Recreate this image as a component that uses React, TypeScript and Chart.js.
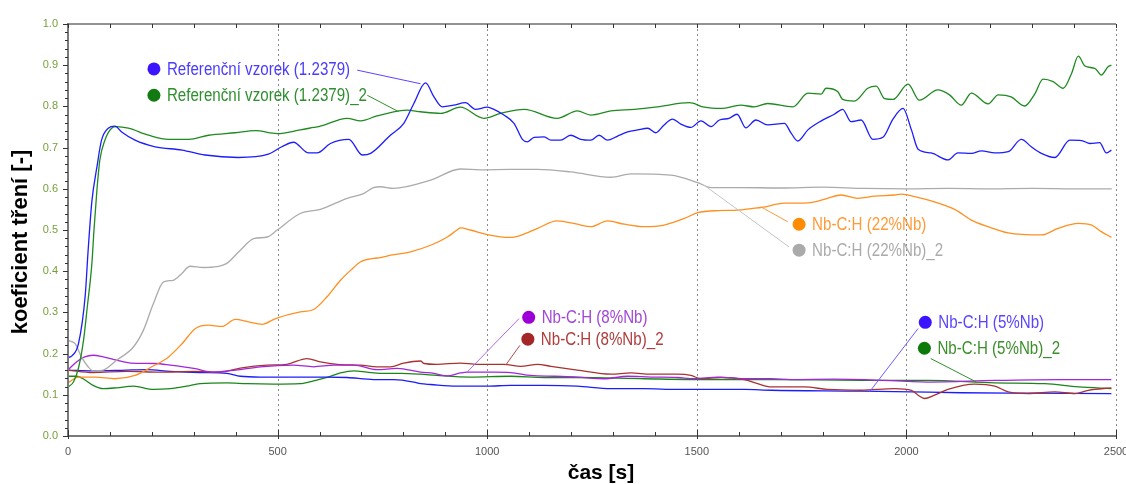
import React, { useEffect, useRef } from "react";
import { Chart, registerables } from "chart.js";

Chart.register(...registerables);

type Pt = [number, number];

// ---------- data (time [s], friction coefficient [-]) ----------
const refSample: Pt[] = [
  [0, 0.19], [10, 0.195], [25, 0.224], [41, 0.34], [48, 0.45], [57, 0.57], [69, 0.653], [80, 0.718],
  [96, 0.747], [112, 0.752], [128, 0.738], [160, 0.718], [208, 0.702], [272, 0.694], [327, 0.682],
  [406, 0.676], [478, 0.684], [510, 0.702], [538, 0.713], [574, 0.687], [594, 0.687], [626, 0.71],
  [670, 0.72], [702, 0.682], [722, 0.686], [769, 0.73], [801, 0.759], [825, 0.807], [853, 0.857],
  [873, 0.823], [893, 0.799], [920, 0.803], [948, 0.809], [972, 0.793], [1000, 0.798], [1016, 0.793],
  [1040, 0.779], [1064, 0.759], [1084, 0.72], [1096, 0.714], [1112, 0.725], [1136, 0.726], [1152, 0.718],
  [1175, 0.718], [1199, 0.73], [1223, 0.72], [1247, 0.718], [1267, 0.73], [1287, 0.718], [1311, 0.728],
  [1335, 0.738], [1359, 0.743], [1383, 0.747], [1402, 0.736], [1422, 0.755], [1442, 0.769], [1462, 0.757],
  [1486, 0.749], [1510, 0.765], [1534, 0.751], [1554, 0.767], [1577, 0.771], [1596, 0.781], [1617, 0.748],
  [1641, 0.767], [1669, 0.755], [1709, 0.759], [1725, 0.735], [1741, 0.716], [1765, 0.743], [1797, 0.765],
  [1828, 0.781], [1848, 0.793], [1868, 0.763], [1892, 0.767], [1920, 0.72], [1944, 0.725], [1968, 0.769],
  [1992, 0.795], [2012, 0.743], [2028, 0.696], [2059, 0.687], [2099, 0.67], [2123, 0.687], [2155, 0.686],
  [2179, 0.692], [2211, 0.687], [2243, 0.69], [2274, 0.72], [2298, 0.702], [2322, 0.686], [2354, 0.676],
  [2390, 0.718], [2418, 0.717], [2438, 0.71], [2461, 0.712], [2477, 0.687], [2489, 0.694],
];

const refSample2: Pt[] = [
  [0, 0.119], [13, 0.131], [25, 0.165], [37, 0.232], [46, 0.313], [57, 0.419], [62, 0.5], [69, 0.597],
  [76, 0.67], [88, 0.718], [104, 0.747], [116, 0.751], [144, 0.747], [192, 0.73], [240, 0.72], [288, 0.72],
  [335, 0.73], [399, 0.736], [447, 0.741], [499, 0.734], [554, 0.743], [586, 0.749], [602, 0.752],
  [666, 0.771], [698, 0.765], [737, 0.777], [745, 0.779], [809, 0.791], [841, 0.787], [889, 0.783],
  [936, 0.798], [992, 0.771], [1032, 0.783], [1088, 0.793], [1167, 0.771], [1215, 0.789], [1247, 0.779],
  [1295, 0.789], [1351, 0.793], [1406, 0.799], [1482, 0.809], [1518, 0.798], [1558, 0.795], [1605, 0.803],
  [1637, 0.799], [1669, 0.807], [1729, 0.799], [1765, 0.832], [1797, 0.83], [1808, 0.844], [1836, 0.836],
  [1848, 0.817], [1876, 0.813], [1908, 0.844], [1928, 0.849], [1948, 0.819], [1968, 0.817], [2004, 0.854],
  [2031, 0.815], [2075, 0.84], [2103, 0.828], [2131, 0.803], [2155, 0.832], [2195, 0.806], [2219, 0.828],
  [2250, 0.823], [2282, 0.801], [2306, 0.83], [2326, 0.866], [2350, 0.86], [2374, 0.844], [2394, 0.88],
  [2410, 0.922], [2426, 0.898], [2450, 0.892], [2465, 0.876], [2481, 0.896], [2489, 0.9],
];

const nb22: Pt[] = [
  [0, 0.129], [25, 0.143], [65, 0.143], [112, 0.139], [160, 0.147], [200, 0.168], [240, 0.192],
  [272, 0.224], [304, 0.261], [335, 0.269], [367, 0.266], [399, 0.283], [431, 0.277], [463, 0.271],
  [495, 0.285], [554, 0.301], [586, 0.307], [618, 0.338], [650, 0.378], [674, 0.402], [698, 0.423],
  [729, 0.431], [745, 0.433], [770, 0.439], [817, 0.447], [865, 0.463], [905, 0.483], [928, 0.5],
  [936, 0.505], [960, 0.5], [1000, 0.489], [1056, 0.482], [1080, 0.487], [1120, 0.504], [1167, 0.522],
  [1215, 0.514], [1247, 0.508], [1287, 0.522], [1327, 0.514], [1375, 0.508], [1422, 0.512], [1470, 0.528],
  [1502, 0.542], [1550, 0.547], [1598, 0.548], [1630, 0.552], [1655, 0.555], [1709, 0.565], [1765, 0.566],
  [1812, 0.577], [1844, 0.585], [1884, 0.577], [1924, 0.582], [1972, 0.585], [1988, 0.587], [2020, 0.581],
  [2067, 0.568], [2115, 0.55], [2155, 0.524], [2195, 0.508], [2243, 0.493], [2322, 0.488], [2362, 0.504],
  [2410, 0.516], [2442, 0.512], [2465, 0.496], [2489, 0.482],
];

const nb22b: Pt[] = [
  [0, 0.232], [17, 0.224], [32, 0.192], [48, 0.168], [60, 0.158], [84, 0.16], [116, 0.184], [156, 0.216],
  [180, 0.257], [204, 0.322], [228, 0.374], [251, 0.378], [271, 0.394], [291, 0.412], [323, 0.409],
  [355, 0.411], [379, 0.419], [411, 0.451], [443, 0.479], [475, 0.483], [499, 0.5], [554, 0.54],
  [602, 0.55], [666, 0.577], [706, 0.589], [729, 0.603], [745, 0.605], [776, 0.601], [865, 0.621],
  [936, 0.648], [984, 0.646], [1056, 0.647], [1120, 0.647], [1199, 0.641], [1295, 0.628], [1343, 0.636],
  [1438, 0.633], [1502, 0.615], [1534, 0.603], [1600, 0.603], [1700, 0.602], [1800, 0.604], [1900, 0.601],
  [2000, 0.6], [2100, 0.601], [2200, 0.6], [2300, 0.601], [2400, 0.6], [2490, 0.6],
];

const nb8: Pt[] = [
  [0, 0.16], [16, 0.176], [40, 0.192], [60, 0.196], [84, 0.192], [116, 0.184], [150, 0.177], [208, 0.176],
  [244, 0.172], [300, 0.164], [347, 0.155], [400, 0.16], [459, 0.168], [538, 0.172], [586, 0.168],
  [634, 0.172], [682, 0.172], [737, 0.161], [785, 0.164], [841, 0.155], [873, 0.152], [904, 0.146],
  [936, 0.153], [952, 0.155], [1016, 0.155], [1056, 0.154], [1104, 0.147], [1160, 0.145], [1215, 0.143],
  [1279, 0.139], [1335, 0.145], [1390, 0.143], [1454, 0.142], [1494, 0.139], [1550, 0.143], [1613, 0.139],
  [1677, 0.139], [1725, 0.137], [1828, 0.138], [1900, 0.137], [2052, 0.131], [2211, 0.135], [2370, 0.137],
  [2489, 0.137],
];

const nb8b: Pt[] = [
  [0, 0.16], [60, 0.154], [140, 0.157], [220, 0.155], [300, 0.157], [363, 0.155], [411, 0.165], [475, 0.172],
  [522, 0.174], [570, 0.188], [602, 0.18], [642, 0.174], [698, 0.172], [737, 0.168], [769, 0.168],
  [801, 0.177], [841, 0.182], [849, 0.176], [880, 0.174], [936, 0.177], [976, 0.174], [1040, 0.174],
  [1080, 0.169], [1120, 0.174], [1152, 0.169], [1215, 0.16], [1295, 0.15], [1343, 0.153], [1390, 0.15],
  [1454, 0.15], [1486, 0.147], [1510, 0.139], [1558, 0.142], [1613, 0.137], [1645, 0.127], [1677, 0.119],
  [1757, 0.119], [1812, 0.113], [1892, 0.111], [1972, 0.115], [2012, 0.111], [2028, 0.099], [2043, 0.091],
  [2067, 0.099], [2099, 0.113], [2163, 0.126], [2211, 0.121], [2243, 0.107], [2290, 0.103], [2354, 0.107],
  [2402, 0.103], [2434, 0.111], [2489, 0.117],
];

const nb5: Pt[] = [
  [0, 0.16], [60, 0.158], [140, 0.16], [188, 0.161], [244, 0.157], [315, 0.154], [379, 0.152], [411, 0.145],
  [459, 0.143], [538, 0.143], [618, 0.143], [666, 0.142], [729, 0.137], [777, 0.137], [825, 0.131],
  [841, 0.127], [865, 0.125], [928, 0.121], [1000, 0.121], [1056, 0.123], [1136, 0.123], [1215, 0.121],
  [1295, 0.115], [1375, 0.115], [1454, 0.113], [1534, 0.113], [1613, 0.113], [1677, 0.111], [1892, 0.109],
  [2012, 0.107], [2131, 0.105], [2290, 0.104], [2489, 0.103],
];

const nb5b: Pt[] = [
  [0, 0.145], [21, 0.145], [36, 0.139], [60, 0.123], [84, 0.115], [116, 0.117], [156, 0.121], [204, 0.113],
  [244, 0.115], [283, 0.121], [315, 0.127], [379, 0.129], [427, 0.127], [490, 0.126], [554, 0.127],
  [586, 0.134], [618, 0.142], [650, 0.153], [682, 0.158], [713, 0.155], [745, 0.152], [793, 0.152],
  [841, 0.15], [880, 0.147], [960, 0.143], [1056, 0.145], [1136, 0.142], [1215, 0.142], [1375, 0.139],
  [1534, 0.137], [1677, 0.137], [1892, 0.135], [2052, 0.135], [2211, 0.129], [2330, 0.127], [2410, 0.119],
  [2489, 0.115],
];

const SERIES_DATA: Pt[][] = [refSample, refSample2, nb22, nb22b, nb8, nb8b, nb5, nb5b];
const SERIES_NAMES = [
  "Referenční vzorek (1.2379)",
  "Referenční vzorek (1.2379)_2",
  "Nb-C:H (22%Nb)",
  "Nb-C:H (22%Nb)_2",
  "Nb-C:H (8%Nb)",
  "Nb-C:H (8%Nb)_2",
  "Nb-C:H (5%Nb)",
  "Nb-C:H (5%Nb)_2",
];

const X_TITLE = "čas [s]";
const Y_TITLE = "koeficient tření [-]";
const X_RANGE: Pt = [0, 2500];
const Y_RANGE: Pt = [0, 1];
const X_MAJOR = 500;
const X_MINOR = 100;
const Y_MAJOR = 0.1;
const Y_MINOR = 0.02;

// ---------- styling ----------
const LINE_COLORS = ["#1c1cff", "#1f8a1f", "#ff8f1f", "#ababab", "#a326d9", "#a83232", "#1c1cff", "#1a861a"];
const DOT_COLORS = ["#3d14ff", "#117a11", "#ff8c00", "#aaaaaa", "#9c00d6", "#a52626", "#3d14ff", "#0b7a0b"];
const TEXT_COLORS = ["#4a3cff", "#2f8f2f", "#ff9b36", "#ababab", "#a347d6", "#b03c3c", "#5a44ff", "#3b8f2b"];
const LEADER_COLORS = ["#6040ff", "#2f8f2f", "#ff9b36", "#c4c4c4", "#b566e6", "#b04848", "#6a5cff", "#2f8f2f"];

// annotation placement (data coordinates)
const LABEL_ANCHORS: Pt[] = [
  [205, 0.891], [205, 0.827], [1744, 0.514], [1744, 0.451],
  [1099, 0.288], [1097, 0.235], [2045, 0.276], [2043, 0.213],
];
const LEADER_FROM: Pt[] = [
  [690, 0.888], [714, 0.827], [1717, 0.52], [1720, 0.459],
  [1076, 0.285], [1078, 0.22], [2028, 0.261], [2058, 0.188],
];
const LEADER_TO: Pt[] = [
  [841, 0.855], [789, 0.787], [1653, 0.556], [1517, 0.609],
  [952, 0.155], [1044, 0.172], [1912, 0.107], [2167, 0.131],
];

const W = 1126;
const H = 484;

const decorPlugin = {
  id: "decor",
  beforeDatasetsDraw(chart: any) {
    const { ctx, chartArea: a, scales } = chart;
    const x = scales.x;
    ctx.save();
    ctx.strokeStyle = "#8c8c8c";
    ctx.lineWidth = 1;
    ctx.setLineDash([2, 3]);
    for (let v = X_RANGE[0] + X_MAJOR; v <= X_RANGE[1] + 1e-9; v += X_MAJOR) {
      const px = Math.round(x.getPixelForValue(v)) + 0.5;
      ctx.beginPath();
      ctx.moveTo(px, a.top);
      ctx.lineTo(px, a.bottom);
      ctx.stroke();
    }
    ctx.restore();
  },
  afterDatasetsDraw(chart: any) {
    const { ctx, chartArea: a, scales } = chart;
    const x = scales.x;
    const y = scales.y;
    ctx.save();
    ctx.setLineDash([]);
    // frame lines
    ctx.strokeStyle = "#6e6e6e";
    ctx.lineWidth = 1.5;
    ctx.beginPath();
    ctx.moveTo(a.left, a.top);
    ctx.lineTo(a.right, a.top);
    ctx.stroke();
    ctx.strokeStyle = "#7a7a7a";
    ctx.lineWidth = 2;
    ctx.beginPath();
    ctx.moveTo(a.left, a.top - 1);
    ctx.lineTo(a.left, a.bottom + 1);
    ctx.moveTo(a.left - 1, a.bottom);
    ctx.lineTo(a.right, a.bottom);
    ctx.stroke();
    // x ticks
    ctx.lineWidth = 1;
    ctx.strokeStyle = "#333";
    const nx = Math.round((X_RANGE[1] - X_RANGE[0]) / X_MINOR);
    for (let i = 0; i <= nx; i++) {
      const v = X_RANGE[0] + i * X_MINOR;
      const px = Math.round(x.getPixelForValue(v)) + 0.5;
      const major = i % Math.round(X_MAJOR / X_MINOR) === 0;
      ctx.beginPath();
      ctx.moveTo(px, a.bottom - (major ? 6 : 4));
      ctx.lineTo(px, a.bottom + (major ? 3 : 0));
      ctx.moveTo(px, a.top);
      ctx.lineTo(px, a.top + 4);
      ctx.stroke();
    }
    // y ticks
    const ny = Math.round((Y_RANGE[1] - Y_RANGE[0]) / Y_MINOR);
    for (let i = 0; i <= ny; i++) {
      const v = Y_RANGE[0] + i * Y_MINOR;
      const py = Math.round(y.getPixelForValue(v)) + 0.5;
      const major = i % Math.round(Y_MAJOR / Y_MINOR) === 0;
      ctx.beginPath();
      ctx.moveTo(a.left - (major ? 5 : 3), py);
      ctx.lineTo(a.left, py);
      ctx.stroke();
    }
    // annotations
    SERIES_NAMES.forEach((name, i) => {
      const [fx, fy] = LEADER_FROM[i];
      const [tx, ty] = LEADER_TO[i];
      ctx.strokeStyle = LEADER_COLORS[i];
      ctx.lineWidth = 1;
      ctx.beginPath();
      ctx.moveTo(x.getPixelForValue(fx), y.getPixelForValue(fy));
      ctx.lineTo(x.getPixelForValue(tx), y.getPixelForValue(ty));
      ctx.stroke();
      const [lx, ly] = LABEL_ANCHORS[i];
      const cx = x.getPixelForValue(lx);
      const cy = y.getPixelForValue(ly);
      ctx.fillStyle = DOT_COLORS[i];
      ctx.beginPath();
      ctx.arc(cx, cy, 6.5, 0, Math.PI * 2);
      ctx.fill();
      ctx.save();
      ctx.translate(cx + 13, cy + 1);
      ctx.scale(0.84, 1);
      ctx.font = '18px "Liberation Sans", Arial, sans-serif';
      ctx.textBaseline = "middle";
      ctx.textAlign = "left";
      ctx.fillStyle = TEXT_COLORS[i];
      ctx.fillText(name, 0, 0);
      ctx.restore();
    });
    // axis titles
    ctx.fillStyle = "#000";
    ctx.font = 'bold 22px "Liberation Sans", Arial, sans-serif';
    ctx.textAlign = "center";
    ctx.textBaseline = "middle";
    ctx.save();
    ctx.translate(21, 242);
    ctx.rotate(-Math.PI / 2);
    ctx.fillText(Y_TITLE, 0, 0);
    ctx.restore();
    ctx.font = 'bold 21px "Liberation Sans", Arial, sans-serif';
    ctx.fillText(X_TITLE, 601, 473);
    ctx.restore();
  },
};

export default function App() {
  const ref = useRef<HTMLCanvasElement | null>(null);
  useEffect(() => {
    document.body.style.margin = "0";
    const canvas = ref.current;
    if (!canvas) return;
    const chart = new Chart(canvas, {
      type: "line",
      data: {
        datasets: SERIES_DATA.map((pts, i) => ({
          label: SERIES_NAMES[i],
          data: pts.map(([px, py]) => ({ x: px, y: py })),
          borderColor: LINE_COLORS[i],
          backgroundColor: LINE_COLORS[i],
          borderWidth: 1.3,
          pointRadius: 0,
          fill: false,
          cubicInterpolationMode: "monotone" as const,
        })),
      },
      options: {
        responsive: false,
        animation: false,
        devicePixelRatio: 1,
        layout: { padding: { top: 24, right: 10, left: 0, bottom: 0 } },
        plugins: { legend: { display: false }, tooltip: { enabled: false } },
        scales: {
          x: {
            type: "linear",
            min: X_RANGE[0],
            max: X_RANGE[1],
            grid: { display: false, drawTicks: false },
            border: { display: false },
            ticks: {
              stepSize: X_MAJOR,
              color: "#555",
              padding: 9,
              maxRotation: 0,
              callback: (v: any) => String(v),
              font: { family: '"Liberation Sans", Arial, sans-serif', size: 11 },
            },
            afterFit: (s: any) => {
              s.height = 48;
              s.paddingLeft = 0;
              s.paddingRight = 0;
            },
          },
          y: {
            type: "linear",
            min: Y_RANGE[0],
            max: Y_RANGE[1],
            grid: { display: false, drawTicks: false },
            border: { display: false },
            ticks: {
              stepSize: Y_MAJOR,
              color: "#76a03a",
              padding: 10,
              callback: (v: any) => Number(v).toFixed(1),
              font: { family: '"Liberation Sans", Arial, sans-serif', size: 11 },
            },
            afterFit: (s: any) => {
              s.width = 68;
              s.paddingTop = 0;
              s.paddingBottom = 0;
            },
          },
        },
      },
      plugins: [decorPlugin],
    });
    return () => chart.destroy();
  }, []);
  return <canvas ref={ref} width={W} height={H} style={{ display: "block" }} />;
}
